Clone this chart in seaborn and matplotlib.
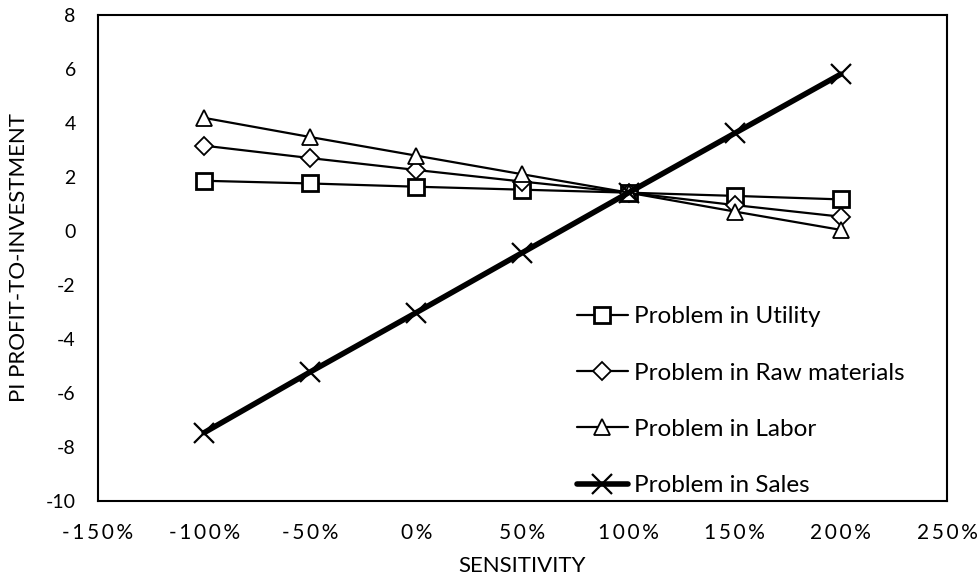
import matplotlib
matplotlib.use("Agg")
import matplotlib.pyplot as plt
import seaborn as sns
import numpy as np
from matplotlib.ticker import FuncFormatter, MultipleLocator

sensitivity = [-100, -50, 0, 50, 100, 150, 200]
utility = [1.86, 1.76, 1.64, 1.53, 1.42, 1.30, 1.17]
raw_materials = [3.16, 2.70, 2.26, 1.83, 1.42, 0.96, 0.53]
labor = [4.19, 3.48, 2.79, 2.10, 1.42, 0.72, 0.04]
sales = [-7.47, -5.22, -3.02, -0.80, 1.42, 3.62, 5.81]
series_names = ["Problem in Utility", "Problem in Raw materials",
                "Problem in Labor", "Problem in Sales"]

sns.set_theme(style="white")
plt.rcParams['font.family'] = ['Lato', 'DejaVu Sans']
plt.rcParams['axes.unicode_minus'] = False

fig = plt.figure(figsize=(9.79, 5.81), dpi=100)
ax = fig.add_axes([0.1001, 0.1377, 0.8672, 0.8365])

common = dict(color="black", markerfacecolor="white", markeredgecolor="black")
sns.lineplot(x=sensitivity, y=utility, ax=ax, label=series_names[0],
             marker="s", markersize=12, markeredgewidth=2.0, linewidth=1.6, **common)
sns.lineplot(x=sensitivity, y=raw_materials, ax=ax, label=series_names[1],
             marker="D", markersize=9, markeredgewidth=1.3, linewidth=1.6, **common)
sns.lineplot(x=sensitivity, y=labor, ax=ax, label=series_names[2],
             marker="^", markersize=12, markeredgewidth=1.3, linewidth=1.6, **common)
sns.lineplot(x=sensitivity, y=sales, ax=ax, label=series_names[3],
             marker="x", markersize=14, markeredgewidth=1.6, linewidth=4.0, **common)

ax.set_xlim(-150, 250)
ax.set_ylim(-10, 8)
ax.xaxis.set_major_locator(MultipleLocator(50))
ax.yaxis.set_major_locator(MultipleLocator(2))
ax.xaxis.set_major_formatter(FuncFormatter(lambda v, p: "\u2009".join(f"{v:.0f}%")))
ax.tick_params(axis="both", labelsize=14, length=0, colors="black")
ax.tick_params(axis="x", labelsize=15, pad=16)
ax.tick_params(axis="y", pad=16)
for s in ax.spines.values():
    s.set_color("black")
    s.set_linewidth(1.5)

ax.set_xlabel("SENSITIVITY", fontsize=16, color="black", labelpad=9)
ax.set_ylabel("PI PROFIT-TO-INVESTMENT", fontsize=16, color="black", labelpad=12)

leg = ax.legend(loc="lower left", bbox_to_anchor=(0.538, -0.035), frameon=False,
                fontsize=17.5, labelspacing=1.45, handlelength=2.1, handletextpad=0.25)
for t in leg.get_texts():
    t.set_color("black")

fig.savefig("out.png", dpi=100)
